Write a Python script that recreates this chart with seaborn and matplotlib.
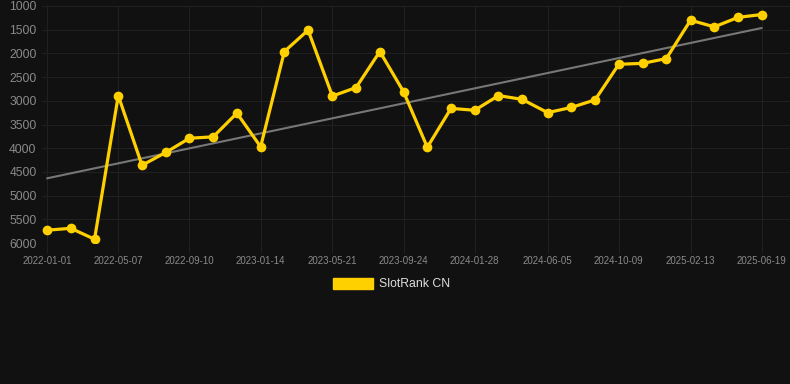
import matplotlib
matplotlib.use("Agg")
import matplotlib.pyplot as plt
import matplotlib.dates as mdates
from matplotlib.patches import Patch
import numpy as np
import pandas as pd
import seaborn as sns

dates = [
    "2022-01-01", "2022-02-12", "2022-03-26",
    "2022-05-07", "2022-06-18", "2022-07-30",
    "2022-09-10", "2022-10-22", "2022-12-03",
    "2023-01-14", "2023-02-25", "2023-04-08",
    "2023-05-21", "2023-07-02", "2023-08-13",
    "2023-09-24", "2023-11-05", "2023-12-17",
    "2024-01-28", "2024-03-10", "2024-04-21",
    "2024-06-05", "2024-07-17", "2024-08-28",
    "2024-10-09", "2024-11-20", "2025-01-01",
    "2025-02-13", "2025-03-27", "2025-05-08",
    "2025-06-19",
]
ranks = [
    5730, 5690, 5920,
    2890, 4360, 4090,
    3790, 3760, 3260,
    3970, 1960, 1510,
    2900, 2720, 1960,
    2810, 3980, 3160,
    3200, 2890, 2970,
    3250, 3140, 2980,
    2230, 2210, 2110,
    1300, 1440, 1240,
    1180,
]
tick_labels = [
    "2022-01-01", "2022-05-07", "2022-09-10", "2023-01-14", "2023-05-21",
    "2023-09-24", "2024-01-28", "2024-06-05", "2024-10-09", "2025-02-13",
    "2025-06-19",
]
y_ticks = [1000, 1500, 2000, 2500, 3000, 3500, 4000, 4500, 5000, 5500, 6000]
series_name = "SlotRank CN"

BG = "#111111"
YELLOW = "#FFD000"
GRID = "#202020"
TICK_C = "#8a8a8a"

sns.set_theme(style="dark")
plt.rcParams["font.family"] = ["Liberation Sans", "DejaVu Sans"]

df = pd.DataFrame({"date": pd.to_datetime(dates), "rank": ranks})

fig = plt.figure(figsize=(7.9, 3.84), dpi=100, facecolor=BG)
ax = fig.add_axes([42 / 790, 1 - 243 / 384, 1 - 42 / 790, (243 - 6) / 384])
ax.set_facecolor(BG)

# trend line (linear regression)
xnum = mdates.date2num(df["date"])
coef = np.polyfit(xnum, df["rank"], 1)
trend_x = np.array([xnum[0], xnum[-1]])
ax.plot(mdates.num2date(trend_x), np.polyval(coef, trend_x), color="#777777", lw=1.5, zorder=2)

sns.lineplot(data=df, x="date", y="rank", ax=ax, color=YELLOW, lw=2.3,
             marker="o", markersize=7, markeredgewidth=0, zorder=3, legend=False)

ax.set_ylim(6000, 1000)
ax.set_yticks(y_ticks)
ax.set_yticklabels([str(v) for v in y_ticks])
tick_dates = pd.to_datetime(tick_labels)
ax.set_xticks(tick_dates)
ax.set_xticklabels(tick_labels)
ax.set_xlim(pd.Timestamp(dates[0]) - pd.Timedelta(days=9),
            pd.Timestamp(dates[-1]) + pd.Timedelta(days=50))

ax.grid(True, color=GRID, lw=0.8)
ax.set_axisbelow(True)
for s in ax.spines.values():
    s.set_visible(False)
ax.tick_params(axis="x", colors=TICK_C, labelsize=7, length=7, width=0.8,
               color=GRID, direction="out", pad=2, bottom=True)
ax.tick_params(axis="y", colors=TICK_C, labelsize=8.7, length=0, pad=4, left=False)
ax.set_xlabel("")
ax.set_ylabel("")

handle = Patch(facecolor=YELLOW, edgecolor=YELLOW)
leg = fig.legend([handle], [series_name], loc="center", bbox_to_anchor=(0.496, 0.26),
                 frameon=False, handlelength=3.3, handleheight=1.0, handletextpad=0.5,
                 fontsize=8.8)
for t in leg.get_texts():
    t.set_color("#dddddd")

fig.savefig("out.png", dpi=100, facecolor=BG)
